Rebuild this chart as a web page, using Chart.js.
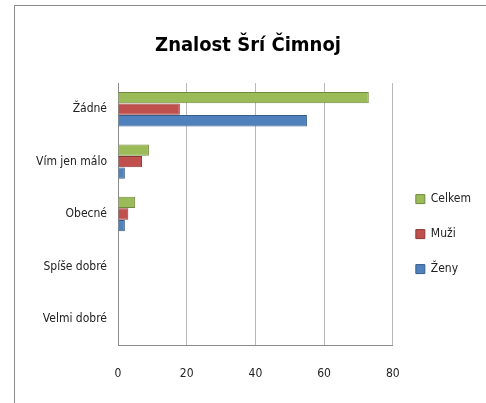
<!DOCTYPE html>
<html>
<head>
<meta charset="utf-8">
<script src="https://cdn.jsdelivr.net/npm/chart.js@4/dist/chart.umd.min.js"></script>
<style>
  html, body { margin: 0; padding: 0; background: #fff; overflow: hidden; }
  #frame { position: absolute; left: 14px; top: 5px; width: 520px; height: 460px;
           border-left: 1px solid #8c8c8c; border-top: 1px solid #8c8c8c; background: #fff; }
  #c { position: absolute; left: 0; top: 0; }
</style>
</head>
<body>
<div id="frame"><canvas id="c" width="471" height="397"></canvas></div>
<script>
const categories = ['Žádné', 'Vím jen málo', 'Obecné', 'Spíše dobré', 'Velmi dobré'];
const seriesNames = ['Celkem', 'Muži', 'Ženy'];
const celkem = [73, 9, 5, 0, 0];
const muzi = [18, 7, 3, 0, 0];
const zeny = [55, 2, 2, 0, 0];
const xTicks = [0, 20, 40, 60, 80];

const FONT = "'Liberation Sans Narrow', 'DejaVu Sans Condensed', 'Liberation Sans', sans-serif";

new Chart(document.getElementById('c'), {
  type: 'bar',
  data: {
    labels: categories,
    datasets: [
      { label: seriesNames[0], data: celkem, backgroundColor: '#9bbb59', borderColor: '#71893f', borderWidth: 1 },
      { label: seriesNames[1], data: muzi, backgroundColor: '#c0504d', borderColor: '#8c3836', borderWidth: 1 },
      { label: seriesNames[2], data: zeny, backgroundColor: '#4f81bd', borderColor: '#385d8a', borderWidth: 1 }
    ]
  },
  options: {
    indexAxis: 'y',
    responsive: false,
    animation: false,
    devicePixelRatio: 1,
    categoryPercentage: 0.66,
    barPercentage: 0.98,
    layout: { padding: { left: 0, right: 5, top: 0, bottom: 0 } },
    plugins: {
      title: {
        display: true,
        text: 'Znalost Šrí Čimnoj',
        color: '#000',
        font: { family: FONT, size: 20, weight: 'bold' },
        padding: { top: 28, bottom: 25 }
      },
      legend: {
        position: 'right',
        align: 'center',
        title: { display: true, text: '', font: { size: 1 }, padding: { top: 58, bottom: 0 } },
        labels: {
          boxWidth: 9, boxHeight: 9, padding: 23,
          color: '#222',
          font: { family: FONT, size: 12 }
        }
      },
      tooltip: { enabled: false }
    },
    scales: {
      x: {
        min: 0, max: 80,
        afterBuildTicks: (s) => { s.ticks = xTicks.map(v => ({ value: v })); },
        afterFit: (s) => { s.height = 58; },
        grid: { color: '#b8b8b8', drawTicks: false },
        border: { display: true, color: '#8c8c8c' },
        ticks: { padding: 22, color: '#222', font: { family: FONT, size: 12 } }
      },
      y: {
        afterFit: (s) => { s.width = 103; },
        grid: { display: false, drawTicks: false },
        border: { display: true, color: '#8c8c8c' },
        ticks: { padding: 11, color: '#222', font: { family: FONT, size: 12 } }
      }
    }
  }
});
</script>
</body>
</html>
